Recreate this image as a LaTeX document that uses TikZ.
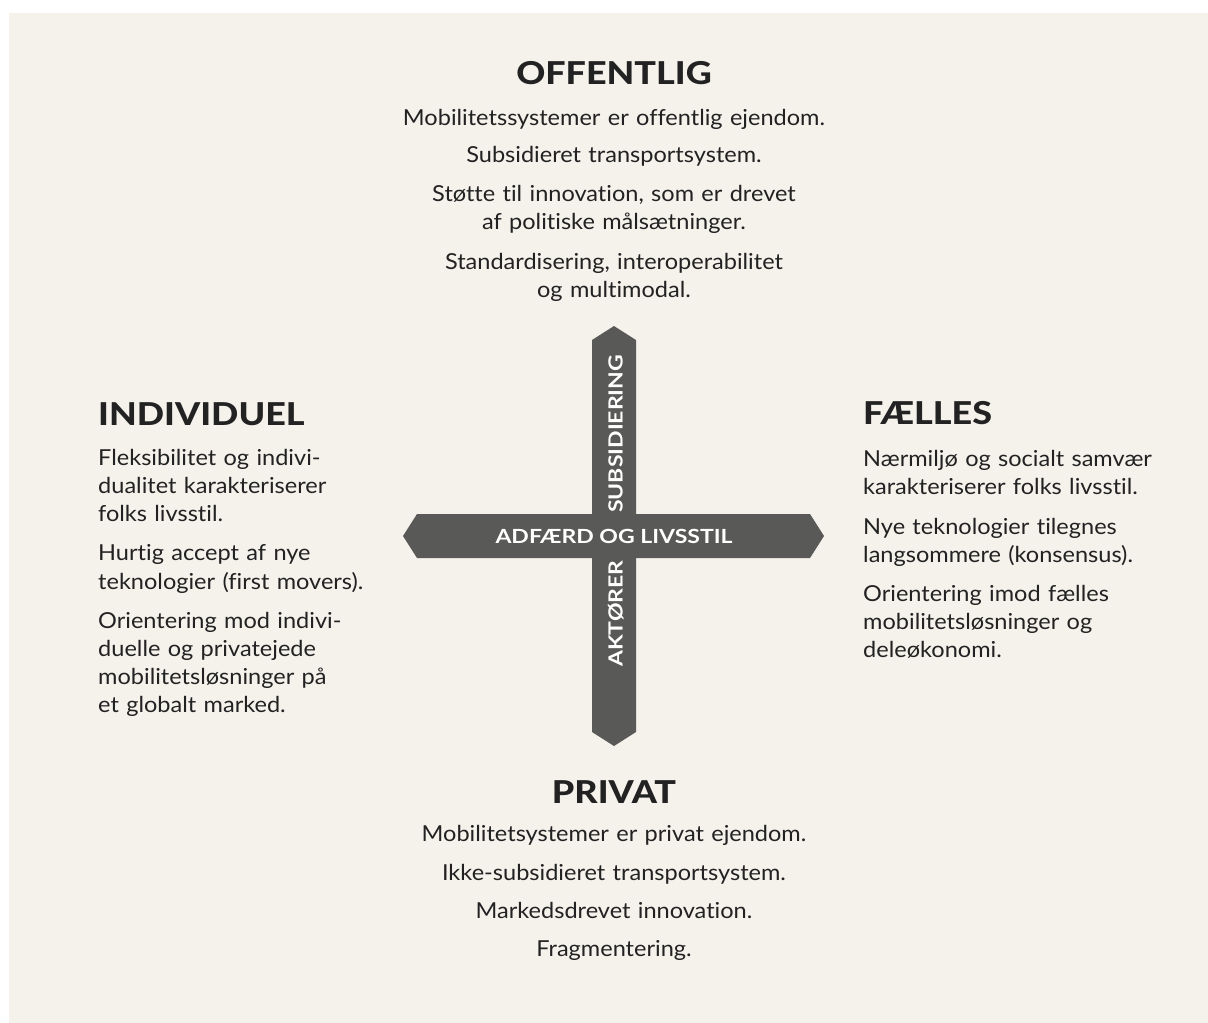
\documentclass[tikz,border=0pt]{standalone}
\usepackage{fontspec}
\setmainfont{Lato}[Ligatures=NoCommon,FakeStretch=1.07,BoldFeatures={FakeStretch=1.18}]
\newfontfamily\heavyfont{Lato Heavy}[Ligatures=NoCommon,FakeStretch=1.14]
\usepackage{xcolor}
\definecolor{mybeige}{RGB}{245,242,236}
\definecolor{mybar}{RGB}{89,89,87}
\definecolor{myink}{RGB}{34,34,34}
\usepackage{tikz}
\usetikzlibrary{positioning}
\tikzstyle{heading}=[font=\heavyfont\fontsize{31.5}{32}\selectfont,text=myink,inner sep=0pt,anchor=base]
\tikzstyle{bodytext}=[font=\fontsize{22}{28.3}\selectfont,text=myink,inner sep=0pt,anchor=base]
\tikzstyle{barlabel}=[font=\bfseries\fontsize{19.5}{20}\selectfont,text=white,inner sep=0pt]

\begin{document}
\begin{tikzpicture}[x=1pt,y=-1pt]
\useasboundingbox (0,0) rectangle (1208,1023);
\fill[white] (0,0) rectangle (1208,1023);
\fill[mybeige] (9,13) rectangle (1208,1023);
% the cross
\fill[mybar] (592,340) -- (614,326) -- (636,340) -- (636,732) -- (614,746) -- (592,732) -- cycle;
\fill[mybar] (417,514) -- (810,514) -- (824,536) -- (810,558) -- (417,558) -- (403,536) -- cycle;
\node[barlabel,anchor=base] (adf) at (614,543) {ADFÆRD OG LIVSSTIL};
\node[barlabel,rotate=90,anchor=base west] (sub) at (622.7,513) {SUBSIDIERING};
\node[barlabel,rotate=90,anchor=base west] (akt) at (622.7,667) {AKTØRER};
% top
\node[heading] (off) at (614,84) {OFFENTLIG};
\node[bodytext,text width=500,align=center] (offtxt) at (614,125) {Mobilitetssystemer er offentlig ejendom.\\[9pt]
Subsidieret transportsystem.\\[11pt]
Støtte til innovation, som er drevet\\af politiske målsætninger.\\[11pt]
Standardisering, interoperabilitet\\og multimodal.};
% left
\node[heading,anchor=base west] (ind) at (98,425) {INDIVIDUEL};
\node[bodytext,text width=320,align=left,anchor=base west] (indtxt) at (98,465) {Fleksibilitet og indivi-\\dualitet karakteriserer\\folks livsstil.\\[11pt]
Hurtig accept af nye\\teknologier (first movers).\\[10.5pt]
Orientering mod indivi-\\duelle og privatejede\\mobilitetsløsninger på\\et globalt marked.};
% right
\node[heading,anchor=base west] (fae) at (863,424) {FÆLLES};
\node[bodytext,text width=330,align=left,anchor=base west] (faetxt) at (863,466) {Nærmiljø og socialt samvær\\karakteriserer folks livsstil.\\[12pt]
Nye teknologier tilegnes\\langsommere (konsensus).\\[10pt]
Orientering imod fælles\\mobilitetsløsninger og\\deleøkonomi.};
% bottom
\node[heading] (priv) at (614,803) {PRIVAT};
\node[bodytext,text width=500,align=center] (privtxt) at (614,841.7) {Mobilitetsystemer er privat ejendom.\\[10pt]
Ikke-subsidieret transportsystem.\\[10pt]
Markedsdrevet innovation.\\[10pt]
Fragmentering.};
\end{tikzpicture}
\end{document}
